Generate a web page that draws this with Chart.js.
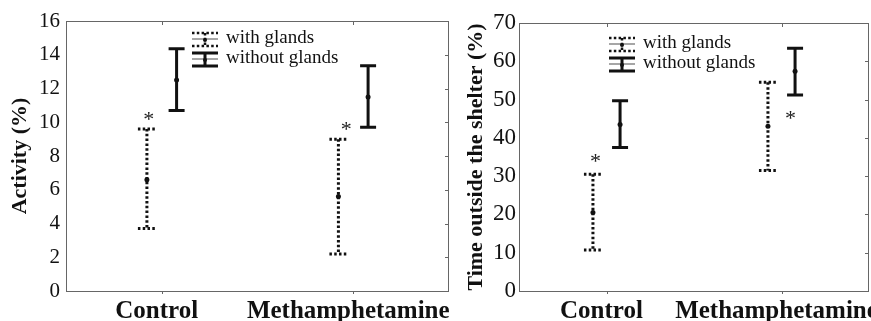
<!DOCTYPE html>
<html>
<head>
<meta charset="utf-8">
<script src="https://cdn.jsdelivr.net/npm/chart.js@4.4.0/dist/chart.umd.min.js"></script>
<style>
  body { margin: 0; background: #fff; }
  .wrap { position: relative; width: 871px; height: 321px; overflow: hidden; }
  canvas { position: absolute; top: 0; }
  #activityChart { left: 0; }
  #shelterChart { left: 450px; }
</style>
</head>
<body>
<div class="wrap">
  <canvas id="activityChart" width="451" height="321"></canvas>
  <canvas id="shelterChart" width="421" height="321"></canvas>
</div>
<script>
// --- 데이터 ---
const categories = ['Control', 'Methamphetamine'];
const seriesNames = ['with glands', 'without glands'];

// Activity (%)
const activityWithMean = [6.6, 5.6];
const activityWithLow = [3.7, 2.2];
const activityWithHigh = [9.6, 9.0];
const activityWithoutMean = [12.5, 11.5];
const activityWithoutLow = [10.7, 9.7];
const activityWithoutHigh = [14.35, 13.35];
const activityStars = [10.45, 9.85];
const activityTicks = [0, 2, 4, 6, 8, 10, 12, 14, 16];

// Time outside the shelter (%)
const shelterWithMean = [20.5, 43.0];
const shelterWithLow = [10.7, 31.5];
const shelterWithHigh = [30.5, 54.5];
const shelterWithoutMean = [43.5, 57.4];
const shelterWithoutLow = [37.5, 51.2];
const shelterWithoutHigh = [49.7, 63.4];
const shelterStars = [35.0, 46.2];
const shelterTicks = [0, 10, 20, 30, 40, 50, 60, 70];

const SERIF = "'Liberation Serif', 'Times New Roman', serif";

// --- 에러바 (평균 ± 범위) ---
const whiskers = {
    id: 'whiskers',
    afterDatasetsDraw(chart) {
        const ctx = chart.ctx;
        const y = chart.scales.y;
        chart.data.datasets.forEach((ds, di) => {
            const meta = chart.getDatasetMeta(di);
            meta.data.forEach((bar, i) => {
                const x = bar.x;
                const top = y.getPixelForValue(ds.high[i]);
                const bot = y.getPixelForValue(ds.low[i]);
                const mid = y.getPixelForValue(ds.mean[i]);
                const half = ds.dotted ? 9 : 8;
                ctx.save();
                ctx.strokeStyle = '#111';
                ctx.lineWidth = 3;
                if (ds.dotted) ctx.setLineDash([2.5, 2.3]);
                ctx.beginPath();
                ctx.moveTo(x, top); ctx.lineTo(x, bot);
                ctx.moveTo(x - half, top); ctx.lineTo(x + half, top);
                ctx.moveTo(x - half, bot); ctx.lineTo(x + half, bot);
                ctx.stroke();
                ctx.setLineDash([]);
                ctx.fillStyle = '#111';
                ctx.beginPath();
                ctx.arc(x, mid, 2.5, 0, Math.PI * 2);
                ctx.fill();
                ctx.restore();
            });
        });
    }
};

// --- 유의성 별표 ---
const stars = {
    id: 'stars',
    afterDatasetsDraw(chart, args, opts) {
        const ctx = chart.ctx;
        const x = chart.scales.x;
        const y = chart.scales.y;
        ctx.save();
        ctx.fillStyle = '#222';
        ctx.font = '22px ' + SERIF;
        ctx.textAlign = 'center';
        ctx.textBaseline = 'alphabetic';
        opts.values.forEach((v, i) => {
            const px = x.getPixelForValue(i) + opts.shift[i];
            ctx.fillText('*', px, y.getPixelForValue(v) + 11);
        });
        ctx.restore();
    }
};

// --- 테두리 + 안쪽 눈금 ---
const plotFrame = {
    id: 'plotFrame',
    afterDraw(chart) {
        const { ctx, chartArea: a } = chart;
        const x = chart.scales.x;
        const y = chart.scales.y;
        ctx.save();
        ctx.strokeStyle = '#666';
        ctx.lineWidth = 1;
        ctx.strokeRect(a.left + 0.5, a.top + 0.5, a.right - a.left - 1, a.bottom - a.top);
        ctx.beginPath();
        y.ticks.forEach(t => {
            const py = Math.round(y.getPixelForValue(t.value)) + 0.5;
            ctx.moveTo(a.right, py); ctx.lineTo(a.right - 4, py);
        });
        categories.forEach((c, i) => {
            const px = Math.round(x.getPixelForValue(i)) + 0.5;
            ctx.moveTo(px, a.top); ctx.lineTo(px, a.top + 4);
            ctx.moveTo(px, a.bottom); ctx.lineTo(px, a.bottom + 3);
        });
        ctx.stroke();
        ctx.restore();
    }
};

// --- 범례 (에러바 모양 아이콘) ---
const glandLegend = {
    id: 'glandLegend',
    afterDraw(chart, args, opts) {
        const { ctx, chartArea: a } = chart;
        const left = a.left + opts.dx;
        const top = a.top + opts.dy;
        const w = 26;
        const cx = left + w / 2;
        ctx.save();
        chart.data.datasets.forEach((ds, di) => {
            const y0 = top + di * 20;
            // 회색 가운데 줄
            ctx.strokeStyle = '#888';
            ctx.lineWidth = 1.5;
            ctx.beginPath();
            ctx.moveTo(left, y0 + 6); ctx.lineTo(left + w, y0 + 6);
            ctx.stroke();
            ctx.strokeStyle = '#111';
            ctx.lineWidth = ds.dotted ? 2.5 : 3;
            if (ds.dotted) ctx.setLineDash([2.5, 2.3]);
            ctx.beginPath();
            ctx.moveTo(left, y0); ctx.lineTo(left + w, y0);
            ctx.moveTo(left, y0 + 13); ctx.lineTo(left + w, y0 + 13);
            ctx.moveTo(cx, y0); ctx.lineTo(cx, y0 + 13);
            ctx.stroke();
            ctx.setLineDash([]);
            ctx.fillStyle = '#111';
            ctx.beginPath();
            ctx.arc(cx, y0 + 7, 2, 0, Math.PI * 2);
            ctx.fill();
            ctx.font = '19px ' + SERIF;
            ctx.textAlign = 'left';
            ctx.textBaseline = 'middle';
            ctx.fillText(ds.label, left + w + 8, y0 + 5);
        });
        ctx.restore();
    }
};

function makeSeries(name, mean, low, high, dotted) {
    return {
        label: name,
        data: low.map((lo, i) => [lo, high[i]]),
        mean: mean,
        low: low,
        high: high,
        dotted: dotted,
        backgroundColor: 'rgba(0,0,0,0)',
        borderWidth: 0,
        categoryPercentage: 0.31,
        barPercentage: 0.5
    };
}

function buildChart(id, cfg) {
    return new Chart(document.getElementById(id), {
        type: 'bar',
        data: {
            labels: categories,
            datasets: [
                makeSeries(seriesNames[0], cfg.withMean, cfg.withLow, cfg.withHigh, true),
                makeSeries(seriesNames[1], cfg.withoutMean, cfg.withoutLow, cfg.withoutHigh, false)
            ]
        },
        options: {
            responsive: false,
            animation: false,
            layout: { padding: { top: cfg.padTop, right: cfg.padRight, bottom: 0, left: 0 } },
            scales: {
                x: {
                    grid: { display: false, drawTicks: false },
                    border: { display: false },
                    ticks: {
                        color: '#111',
                        padding: 6,
                        labelOffset: -5,
                        autoSkip: false,
                        maxRotation: 0,
                        font: { family: SERIF, size: 25, weight: 'bold' }
                    },
                    afterFit(scale) {
                        // 긴 라벨이 차트 영역을 줄이지 않도록
                        scale.height = 30;
                        scale.paddingLeft = 0;
                        scale.paddingRight = 0;
                    }
                },
                y: {
                    min: 0,
                    max: cfg.ticks[cfg.ticks.length - 1],
                    afterBuildTicks(scale) { scale.ticks = cfg.ticks.map(v => ({ value: v })); },
                    grid: { display: false, drawTicks: false },
                    border: { display: false },
                    ticks: {
                        color: '#111',
                        padding: cfg.tickPad,
                        font: { family: SERIF, size: cfg.tickSize }
                    },
                    title: {
                        display: true,
                        text: cfg.title,
                        color: '#111',
                        padding: { top: cfg.titlePad, bottom: 0 },
                        font: { family: SERIF, size: 22, weight: 'bold' }
                    },
                    afterFit(scale) {
                        scale.width = cfg.axisWidth;
                        scale.paddingTop = 0;
                        scale.paddingBottom = 0;
                    }
                }
            },
            plugins: {
                legend: { display: false },
                tooltip: { enabled: false },
                stars: { values: cfg.stars, shift: cfg.starShift },
                glandLegend: { dx: cfg.legendDx, dy: cfg.legendDy }
            }
        },
        plugins: [whiskers, stars, plotFrame, glandLegend]
    });
}

buildChart('activityChart', {
    title: 'Activity (%)',
    ticks: activityTicks,
    withMean: activityWithMean, withLow: activityWithLow, withHigh: activityWithHigh,
    withoutMean: activityWithoutMean, withoutLow: activityWithoutLow, withoutHigh: activityWithoutHigh,
    stars: activityStars, starShift: [-13, -7],
    padTop: 21, padRight: 2, axisWidth: 66, tickPad: 6, tickSize: 21, titlePad: 7,
    legendDx: 126, legendDy: 12
});

buildChart('shelterChart', {
    title: 'Time outside the shelter (%)',
    ticks: shelterTicks,
    withMean: shelterWithMean, withLow: shelterWithLow, withHigh: shelterWithHigh,
    withoutMean: shelterWithoutMean, withoutLow: shelterWithoutLow, withoutHigh: shelterWithoutHigh,
    stars: shelterStars, starShift: [-11, 9],
    padTop: 23, padRight: 2, axisWidth: 69, tickPad: 3, tickSize: 23, titlePad: 13,
    legendDx: 90, legendDy: 15
});
</script>
</body>
</html>
